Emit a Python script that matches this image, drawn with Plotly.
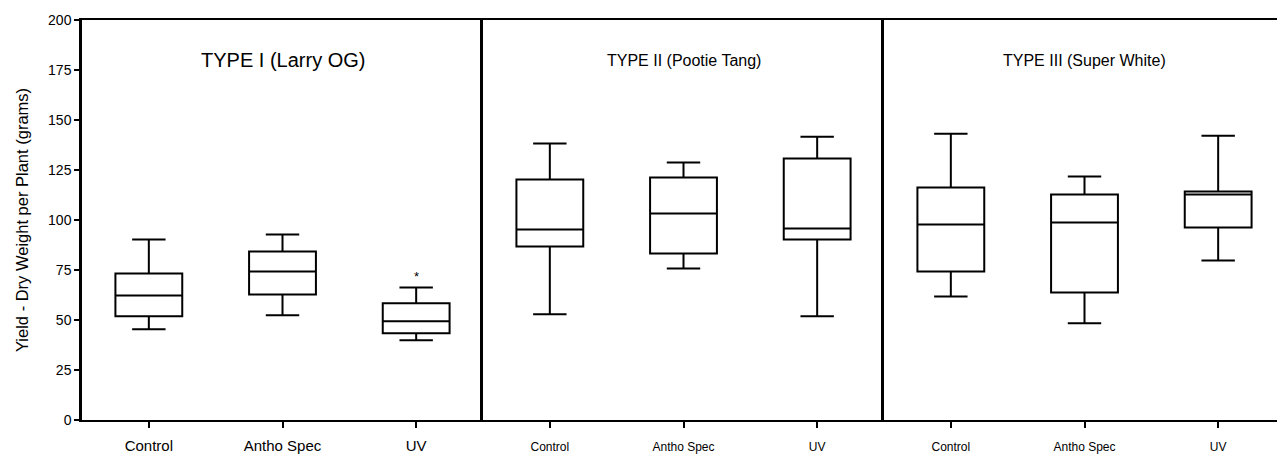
import plotly.graph_objects as go

categories = ["Control", "Antho Spec", "UV"]
panel_titles = ["TYPE I (Larry OG)", "TYPE II (Pootie Tang)", "TYPE III (Super White)"]

# lower whisker, q1, median, q3, upper whisker per category, per panel
type1_low = [45.4, 52.4, 39.9]
type1_q1 = [51.9, 62.8, 43.4]
type1_med = [62.3, 74.3, 49.4]
type1_q3 = [73.3, 84.3, 58.4]
type1_high = [90.3, 92.8, 66.3]

type2_low = [52.9, 75.8, 51.9]
type2_q1 = [86.8, 83.3, 90.3]
type2_med = [95.3, 103.2, 95.8]
type2_q3 = [120.2, 121.2, 130.7]
type2_high = [138.3, 128.7, 141.6]

type3_low = [61.8, 48.4, 79.8]
type3_q1 = [74.3, 63.8, 96.3]
type3_med = [97.8, 98.8, 112.7]
type3_q3 = [116.2, 112.7, 114.2]
type3_high = [143.1, 121.7, 142.1]

y_ticks = [0, 25, 50, 75, 100, 125, 150, 175, 200]
star_label = "*"
star_category = "UV"
star_value = 66.3

panels = [
    (type1_low, type1_q1, type1_med, type1_q3, type1_high),
    (type2_low, type2_q1, type2_med, type2_q3, type2_high),
    (type3_low, type3_q1, type3_med, type3_q3, type3_high),
]

fig = go.Figure()
FONT = "Liberation Sans, Arial, sans-serif"
NARROW = "Liberation Sans Narrow, Liberation Sans, Arial, sans-serif"

for i, (lo, q1, med, q3, hi) in enumerate(panels):
    sfx = "" if i == 0 else str(i + 1)
    for j, cat in enumerate(categories):
        fig.add_trace(go.Box(
            x=[cat], q1=[q1[j]], median=[med[j]], q3=[q3[j]],
            lowerfence=[lo[j]], upperfence=[hi[j]],
            width=0.5, whiskerwidth=0.5,
            line=dict(color="black", width=2), fillcolor="white",
            boxpoints=False, showlegend=False, hoverinfo="skip",
            xaxis="x" + sfx, yaxis="y" + sfx,
        ))

domains = [[0, 401 / 1203], [401 / 1203, 802 / 1203], [802 / 1203, 1]]
layout = dict(
    width=1277, height=446,
    margin=dict(l=74, r=0, t=12, b=25),
    paper_bgcolor="white", plot_bgcolor="white",
    font=dict(family=FONT, color="black"),
)
for i in range(3):
    sfx = "" if i == 0 else str(i + 1)
    layout["xaxis" + sfx] = dict(
        domain=domains[i], anchor="y" + sfx,
        categoryorder="array", categoryarray=categories,
        range=[-0.5, 2.5], showline=True, mirror=True,
        linecolor="black", linewidth=2,
        ticks="outside", ticklen=6, tickwidth=1.5, tickcolor="black",
        ticklabelstandoff=5 if i == 0 else 9,
        showgrid=False, zeroline=False,
        tickfont=dict(size=15 if i == 0 else 12, family=FONT if i == 0 else NARROW),
        fixedrange=True,
    )
    ya = dict(
        anchor="x" + sfx, range=[0, 200], showline=True,
        linecolor="black", linewidth=2.5,
        showgrid=False, zeroline=False, fixedrange=True,
    )
    if i == 0:
        ya.update(tickvals=y_ticks, ticks="outside", ticklen=5, tickwidth=1.5,
                  tickcolor="black", tickfont=dict(size=14),
                  title=dict(text="Yield - Dry Weight per Plant (grams)",
                             font=dict(size=16.5), standoff=16))
    else:
        ya.update(matches="y", showticklabels=False, ticks="")
    layout["yaxis" + sfx] = ya

fig.update_layout(**layout)

for i, t in enumerate(panel_titles):
    sfx = "" if i == 0 else str(i + 1)
    fig.add_annotation(
        x=categories[1], y=180, xref="x" + sfx, yref="y" + sfx,
        text=t, showarrow=False,
        font=dict(size=20 if i == 0 else 16, family=FONT if i == 0 else NARROW),
    )

fig.add_annotation(
    x=star_category, y=star_value, xref="x", yref="y", text=star_label,
    showarrow=False, yanchor="bottom", yshift=1, font=dict(size=13),
)

fig.write_html("out.html")
